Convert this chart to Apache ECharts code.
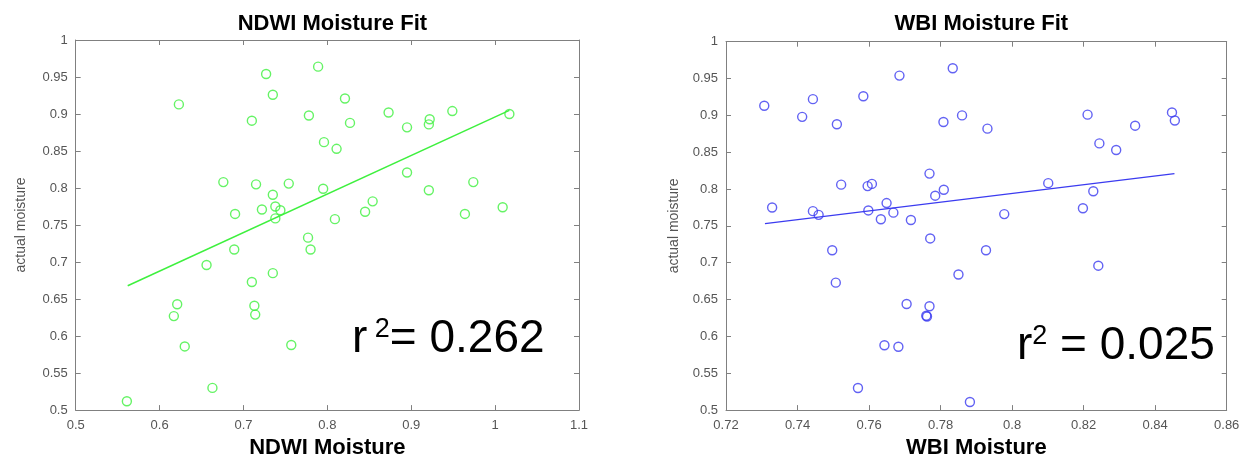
<!DOCTYPE html>
<html>
<head>
<meta charset="utf-8">
<script src="https://cdn.jsdelivr.net/npm/echarts@6/dist/echarts.min.js"></script>
<style>html,body{margin:0;padding:0;background:#fff}#c{width:1250px;height:464px}</style>
</head>
<body>
<div id="c"></div>
<script>
// NDWI panel
const ndwiX = [0.623,0.727,0.789,0.735,0.710,0.778,0.796,0.676,0.715,0.754,0.735,0.795,0.690,0.722,0.738,0.744,0.738,0.821,0.827,0.811,0.873,0.895,0.922,0.921,0.949,1.017,0.895,0.974,0.921,0.854,0.845,0.809,0.964,1.009,0.777,0.780,0.689,0.656,0.735,0.710,0.621,0.617,0.713,0.714,0.630,0.757,0.663,0.561];
const ndwiY = [0.913,0.954,0.964,0.926,0.891,0.898,0.862,0.808,0.805,0.806,0.791,0.799,0.765,0.771,0.775,0.770,0.759,0.921,0.888,0.853,0.902,0.882,0.893,0.886,0.904,0.900,0.821,0.808,0.797,0.782,0.768,0.758,0.765,0.774,0.733,0.717,0.717,0.696,0.685,0.673,0.643,0.627,0.641,0.629,0.586,0.588,0.530,0.512];
const ndwiFitX = [0.562,1.017];
const ndwiFitY = [0.668,0.905];
// WBI panel
const wbiX = [0.7307,0.7413,0.7443,0.7510,0.7584,0.7685,0.7834,0.7808,0.7860,0.7329,0.7522,0.7596,0.7608,0.7443,0.7459,0.7598,0.7649,0.7633,0.7668,0.7717,0.7769,0.7785,0.7809,0.7931,0.8211,0.8244,0.8291,0.8344,0.8447,0.8455,0.8101,0.8227,0.8198,0.7978,0.7771,0.7497,0.7507,0.7850,0.7705,0.7769,0.7760,0.7762,0.7643,0.7682,0.7569,0.7882,0.7927,0.8241];
const wbiY = [0.913,0.898,0.922,0.888,0.926,0.954,0.964,0.891,0.900,0.775,0.806,0.804,0.807,0.770,0.765,0.771,0.781,0.759,0.768,0.758,0.821,0.791,0.799,0.882,0.901,0.862,0.853,0.886,0.904,0.893,0.808,0.797,0.774,0.766,0.733,0.717,0.673,0.684,0.644,0.641,0.628,0.627,0.588,0.586,0.530,0.511,0.717,0.696];
const wbiFitX = [0.7309,0.8454];
const wbiFitY = [0.753,0.821];

const titles = ['NDWI Moisture Fit','WBI Moisture Fit'];
const xNames = ['NDWI Moisture','WBI Moisture'];
const yName = 'actual moisture';
const r2Text = ['0.262','0.025'];
const xRanges = [[0.5,1.1,0.1],[0.72,0.86,0.02]];
const yRange = [0.5,1,0.05];

const green = '#3ef03e', blue = '#3b3bf0';
const axisGray = '#808080', labelGray = '#555';
const FONT = 'Liberation Sans, Arial, sans-serif';

const grids = [
  {left:75.7, top:40, width:503.3, height:375.7},
  {left:726, top:41.7, width:500.7, height:372.3}
];
const yNameGaps = [48, 45];

function fmtX(i){ return v => { const r = Math.round(v*1000)/1000; return String(r); }; }

const xAxis = [], yAxis = [];
for (let g=0; g<2; g++){
  const [mn,mx,iv] = xRanges[g];
  const common = {gridIndex:g, type:'value', min:mn, max:mx, interval:iv,
    axisLine:{show:true,lineStyle:{color:axisGray,width:1}},
    axisTick:{show:true,inside:true,length:5,lineStyle:{color:axisGray}},
    splitLine:{show:false}};
  xAxis.push(Object.assign({}, common, {position:'bottom',
    name:xNames[g], nameLocation:'middle', nameGap:24,
    nameTextStyle:{fontFamily:FONT,fontWeight:'bold',fontSize:22,color:'#000'},
    axisLabel:{color:labelGray,fontFamily:FONT,fontSize:13,margin:9,formatter:fmtX(g)}}));
  xAxis.push(Object.assign({}, common, {position:'top', axisLabel:{show:false}}));
  const yc = {gridIndex:g, type:'value', min:yRange[0], max:yRange[1], interval:yRange[2],
    axisLine:{show:true,lineStyle:{color:axisGray,width:1}},
    axisTick:{show:true,inside:true,length:5,lineStyle:{color:axisGray}},
    splitLine:{show:false}};
  yAxis.push(Object.assign({}, yc, {position:'left',
    name:yName, nameLocation:'middle', nameGap:yNameGaps[g],
    nameTextStyle:{fontFamily:FONT,fontSize:14,color:labelGray},
    axisLabel:{color:labelGray,fontFamily:FONT,fontSize:13,margin:8,
      formatter: v => String(Math.round(v*100)/100)}}));
  yAxis.push(Object.assign({}, yc, {position:'right', axisLabel:{show:false}}));
}

function pts(xs,ys){ return xs.map((x,i)=>[x,ys[i]]); }

const series = [
  {type:'scatter', xAxisIndex:0, yAxisIndex:0, data:pts(ndwiX,ndwiY), symbol:'circle', symbolSize:9,
   itemStyle:{color:'rgba(0,0,0,0)', borderColor:green, borderWidth:1.4}, silent:true},
  {type:'line', xAxisIndex:0, yAxisIndex:0, data:pts(ndwiFitX,ndwiFitY), showSymbol:false,
   lineStyle:{color:green,width:1.5}, silent:true},
  {type:'scatter', xAxisIndex:2, yAxisIndex:2, data:pts(wbiX,wbiY), symbol:'circle', symbolSize:9,
   itemStyle:{color:'rgba(0,0,0,0)', borderColor:blue, borderWidth:1.4}, silent:true},
  {type:'line', xAxisIndex:2, yAxisIndex:2, data:pts(wbiFitX,wbiFitY), showSymbol:false,
   lineStyle:{color:blue,width:1.3}, silent:true}
];

const title = titles.map((t,g)=>({text:t, left:grids[g].left+grids[g].width/2, textAlign:'center', top:8,
  textStyle:{fontFamily:FONT,fontWeight:'bold',fontSize:22,color:'#000'}}));

const rich = {
  r:{fontFamily:FONT,fontSize:46,color:'#000'},
  s:{fontFamily:FONT,fontSize:27,color:'#000',verticalAlign:'top',padding:[0,0,18,0]},
  v:{fontFamily:FONT,fontSize:46,color:'#000'}
};
const r2Pos = [[352,346],[1017,353]];
const graphic = r2Text.map((v,g)=>({type:'text', left:r2Pos[g][0], top:r2Pos[g][1]-30,
  style:{rich:rich, text:'{r|r}{s|' + (g===0?' 2':'2') + '}{v|' + (g===0?'= ':' = ') + v + '}'}}));

const chart = echarts.init(document.getElementById('c'), null, {renderer:'canvas'});
chart.setOption({animation:false, backgroundColor:'#fff', title, grid:grids, xAxis, yAxis, series, graphic});
</script>
</body>
</html>
